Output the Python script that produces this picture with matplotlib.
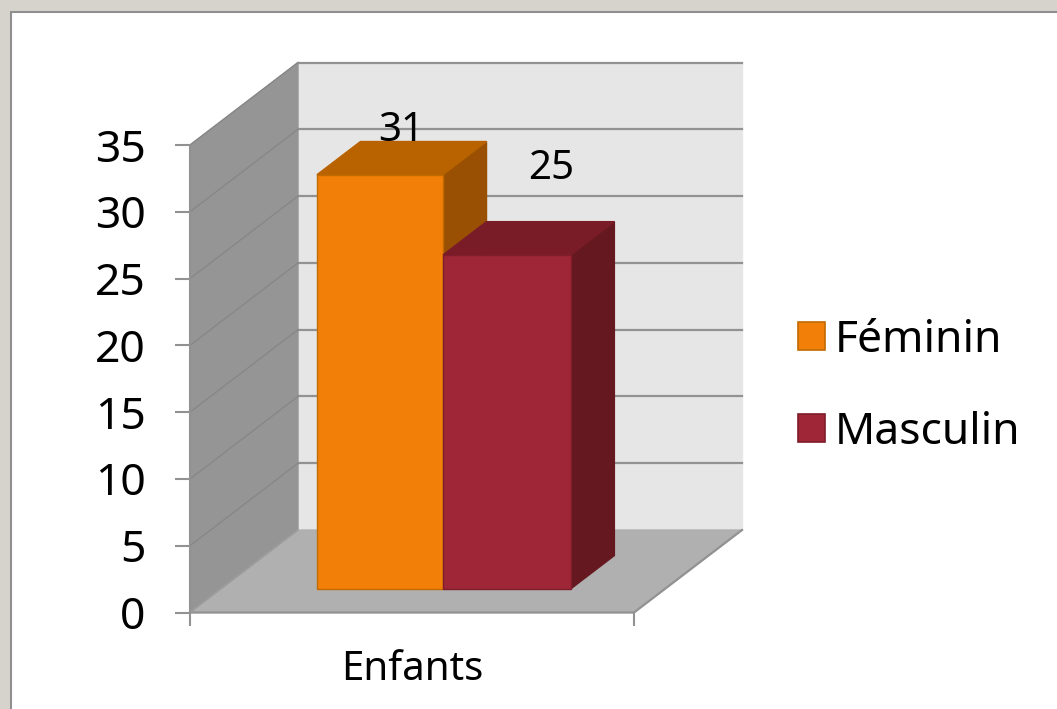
import matplotlib
matplotlib.use('Agg')
import matplotlib.pyplot as plt
from matplotlib.patches import Polygon, Patch, Rectangle

plt.rcParams['font.family'] = ['Noto Sans', 'DejaVu Sans']

categories = ['Enfants']
series_names = ['Féminin', 'Masculin']
values = [31, 25]
y_ticks = [0, 5, 10, 15, 20, 25, 30, 35]

front_colors = ['#f28008', '#9e2636']
top_colors = ['#b86200', '#7a1c28']
side_colors = ['#9a5002', '#661820']
edge_colors = ['#c26a00', '#7f1d2b']

W, H = 1057, 709
fig = plt.figure(figsize=(W / 100, H / 100), dpi=100, facecolor='#d6d3cc')
# white slide panel behind the chart
fig.patches.append(Rectangle((11 / W, 1 - 720 / H), 1060 / W, 708 / H, transform=fig.transFigure,
                             facecolor='white', edgecolor='#8f8f8f', linewidth=1.5, zorder=-1))

ax = fig.add_axes([190 / W, 1 - 612.5 / H, 444 / W, 467.5 / H])
ax.set_xlim(0, 1)
ax.set_ylim(0, 35)
ax.patch.set_visible(False)

# oblique depth of the fake 3d box, in data units
dx = 108 / 444
dy = 82.5 / (467.5 / 35)


def pt(x, y, d=0.0):
    return (x + d * dx, y + d * dy)


def face(points, color, edge=None, z=2, lw=1):
    ax.add_patch(Polygon(points, closed=True, facecolor=color, edgecolor=edge or color,
                         linewidth=lw, zorder=z, clip_on=False))


# walls and floor
face([pt(0, 0, 1), pt(1, 0, 1), pt(1, 35, 1), pt(0, 35, 1)], '#e6e6e6', z=1)
face([pt(0, 0), pt(0, 0, 1), pt(0, 35, 1), pt(0, 35)], '#959595', z=1)
face([pt(0, 0), pt(1, 0), pt(1, 0, 1), pt(0, 0, 1)], '#b0b0b0', z=1)

for t in y_ticks:
    if t > 0:
        x0, y0 = pt(0, t, 1)
        x1, y1 = pt(1, t, 1)
        ax.plot([x0, x1], [y0, y1], color='#929292', lw=1.6, zorder=1.5, clip_on=False)
        ax.plot([0, x0], [t, y0], color='#868686', lw=0.9, zorder=1.5, clip_on=False)
ax.plot([0, 1, pt(1, 0, 1)[0]], [0, 0, pt(1, 0, 1)[1]], color='#929292', lw=1.6, zorder=1.6, clip_on=False)
ax.plot([0, pt(0, 0, 1)[0]], [0, pt(0, 0, 1)[1]], color='#9a9a9a', lw=1, zorder=1.6, clip_on=False)

# bars
bar_left = [0.216, 0.5]
bar_w = [0.284, 0.288]
d0, d1 = 0.287, 0.69
for i, v in enumerate(values):
    l, r = bar_left[i], bar_left[i] + bar_w[i]
    z = 3 + i
    face([pt(r, 0, d0), pt(r, 0, d1), pt(r, v, d1), pt(r, v, d0)], side_colors[i], z=z)
    face([pt(l, v, d0), pt(r, v, d0), pt(r, v, d1), pt(l, v, d1)], top_colors[i], z=z)
    face([pt(l, 0, d0), pt(r, 0, d0), pt(r, v, d0), pt(l, v, d0)], front_colors[i], edge_colors[i], z=z + 0.1)

# data labels
label_offsets = [(15, 31.5), (32, 61.5)]
for i, v in enumerate(values):
    xc = bar_left[i] + bar_w[i] / 2
    ax.annotate(str(v), xy=pt(xc, v, d0), xytext=label_offsets[i], textcoords='offset points',
                ha='center', va='center', fontsize=29, color='black', zorder=8)

# axes
for s in ['top', 'right', 'bottom']:
    ax.spines[s].set_visible(False)
ax.spines['left'].set_color('#929292')
ax.spines['left'].set_linewidth(1.5)
ax.spines['left'].set_zorder(6)
ax.set_yticks(y_ticks)
ax.tick_params(axis='y', length=11, width=1.5, color='#929292', labelsize=32, pad=21)
ax.set_xticks([0, 1], ['', ''])
ax.tick_params(axis='x', which='major', length=9, width=1.5, color='#929292')
ax.set_xticks([0.5], categories, minor=True)
ax.tick_params(axis='x', which='minor', length=0, labelsize=29, pad=27)

handles = [Patch(facecolor=front_colors[i], edgecolor=edge_colors[i], linewidth=1.2, label=series_names[i])
           for i in range(2)]
ax.legend(handles=handles, loc='center left', bbox_to_anchor=(798 / W, 1 - 387 / H),
          bbox_transform=fig.transFigure, frameon=False, fontsize=32,
          handlelength=0.6, handleheight=0.6, handletextpad=0.22, labelspacing=1.08,
          borderpad=0, borderaxespad=0)

fig.savefig('out.png', dpi=100, facecolor=fig.get_facecolor())
